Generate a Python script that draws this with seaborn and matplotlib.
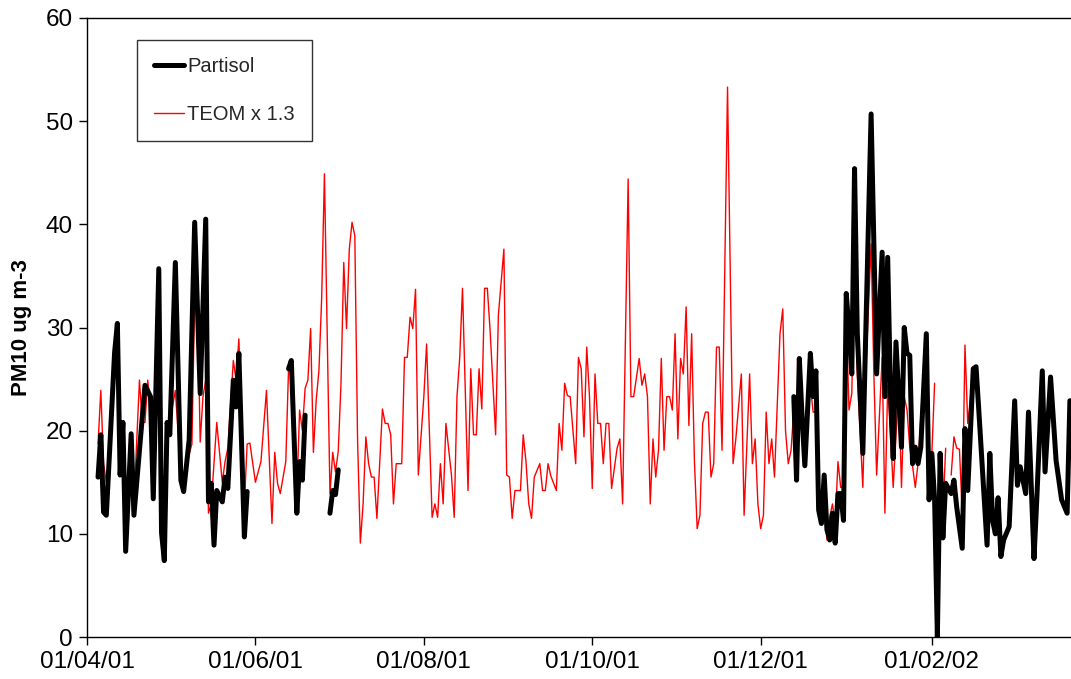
import numpy as np
import pandas as pd
import matplotlib
matplotlib.use("Agg")
import matplotlib.pyplot as plt
import matplotlib.dates as mdates
from matplotlib.lines import Line2D
import seaborn as sns

START = "2001-04-01"
nan = np.nan

# TEOM x 1.3 (red) : day offset since 01/04/01 and value
teom_days = [4,5,6,7,8,10,11,12,13,14,16,17,19,20,21,22,23,24,26,27,28,29,30,32,34,35,38,39,40,41,42,43,44,45,47,49,50,51,53,54,55,57,58,59,61,63,65,67,68,69,70,72,73,74,76,77,78,79,80,81,82,83,84,85,86,88,89,90,91,92,93,94,95,96,97,98,99,100,101,102,103,104,105,107,108,109,110,111,112,113,114,115,116,117,118,119,120,122,123,125,126,127,128,129,130,132,133,134,135,136,138,139,140,141,142,143,144,145,146,148,149,151,152,153,154,155,157,158,159,160,161,162,164,165,166,167,168,170,171,172,173,174,175,177,178,179,180,181,182,183,184,185,186,187,188,189,190,192,193,194,196,197,198,200,201,202,203,204,205,206,207,208,209,210,211,212,213,214,215,216,217,218,219,220,221,222,223,224,225,226,227,228,229,230,232,234,235,237,238,240,241,242,243,244,245,246,247,248,249,251,252,253,254,255,256,257,258,259,260,262,263,264,265,266,267,268,269,270,271,272,273,274,275,276,277,278,279,281,282,284,285,286,288,289,290,291,292,294,295,296,297,298,299,300,301,303,304,305,306,307,308,310,311,312,313,314,315,316,317,318,319,321,322,324,325]
teom_vals = [18.7,23.9,16.8,15.0,15.0,26.0,24.9,18.9,20.0,8.9,18.8,13.0,24.9,20.8,20.8,24.9,22.3,14.9,31.8,13.9,12.0,20.8,20.8,23.9,15.8,15.8,18.7,32.9,32.9,18.9,23.3,24.9,12.0,12.9,20.8,15.0,17.0,18.3,26.8,24.9,28.9,12.9,18.7,18.8,15.0,17.0,23.9,11.0,17.9,14.9,13.9,17.0,26.0,26.8,13.9,22.0,20.0,24.1,24.9,29.9,17.9,22.9,25.8,32.9,44.9,13.9,17.9,16.0,18.0,24.6,36.3,29.9,37.6,40.2,38.9,19.1,9.1,12.9,19.4,16.8,15.5,15.5,11.5,22.1,20.7,20.7,19.6,12.9,16.8,16.8,16.8,27.1,27.1,31.0,29.9,33.7,15.7,23.3,28.4,11.6,12.9,11.6,16.8,12.9,20.7,15.7,11.6,23.3,27.1,33.8,14.2,26.0,19.6,19.6,26.0,22.1,33.8,33.8,29.7,19.6,31.2,37.6,15.7,15.5,11.5,14.2,14.2,19.6,17.0,12.9,11.5,15.5,16.8,14.2,14.2,16.8,15.6,14.2,20.7,18.1,24.6,23.4,23.3,16.8,27.1,26.0,19.4,28.1,23.3,14.4,25.5,20.7,20.7,16.8,20.7,20.7,14.4,18.3,19.2,12.9,44.4,23.3,23.3,27.0,24.4,25.5,23.3,12.9,19.2,15.5,18.1,27.0,18.1,23.3,23.3,22.0,29.4,19.2,27.0,25.5,32.0,20.5,29.4,17.1,10.5,11.8,20.7,21.8,21.8,15.5,16.8,28.1,28.1,18.1,53.3,16.8,19.2,25.5,11.8,25.5,16.8,19.2,12.9,10.5,11.8,21.8,16.8,19.2,15.5,29.4,31.8,20.0,16.8,18.1,22.0,15.5,24.4,21.0,18.1,24.4,21.8,21.8,12.9,14.2,15.5,9.4,11.6,12.9,11.0,17.0,14.5,14.5,30.9,22.0,23.6,35.7,25.5,14.5,25.2,38.1,25.5,15.7,27.1,12.0,24.4,19.7,14.5,24.4,14.5,23.3,22.0,18.4,16.6,14.5,16.8,25.7,23.4,15.7,17.8,24.6,nan,12.0,18.3,nan,15.7,19.4,18.3,18.2,12.0,28.3,20.7,25.7,nan,18.3,12.0]

# Partisol (black)
part_days = [4,5,6,7,10,11,12,13,14,16,17,21,23,24,26,27,28,29,30,32,34,35,37,39,41,43,44,45,46,47,49,50,51,53,54,55,57,58,59,73,74,76,77,78,79,80,88,89,90,91,92,256,257,258,259,260,262,263,264,265,266,267,268,269,270,271,272,273,274,275,276,277,278,279,281,284,286,288,289,290,291,292,293,295,296,297,298,299,300,301,302,304,305,306,307,308,309,310,311,313,314,315,317,318,319,321,322,323,326,327,328,329,330,331,332,334,336,337,338,340,341,343,344,346,347,349,351,353,355,356]
part_vals = [15.5,19.6,12.1,11.8,27.6,30.4,15.7,20.8,8.3,19.7,11.8,24.4,23.3,13.4,35.7,10.1,7.4,20.8,19.6,36.3,15.2,14.1,19.1,40.2,23.6,40.5,13.1,14.9,8.9,14.2,13.1,15.5,14.4,24.9,22.3,27.5,9.7,14.1,nan,26.0,26.8,12.0,17.0,15.2,21.5,nan,12.0,14.2,13.8,16.2,nan,23.3,15.2,27.0,21.3,16.6,27.5,23.3,25.8,12.3,11.0,15.7,10.4,9.4,12.0,9.1,13.9,13.9,11.3,33.3,29.7,25.5,45.4,29.4,17.8,50.7,25.5,37.3,23.3,36.8,23.9,17.3,28.6,18.4,30.0,27.5,27.3,16.8,18.4,16.8,18.4,29.4,13.3,17.8,13.3,0.0,17.8,9.6,14.9,13.9,15.2,12.6,8.6,20.2,14.2,26.0,26.2,22.0,8.9,17.8,11.3,10.0,13.5,7.8,9.4,10.7,22.9,14.7,16.5,13.9,21.8,7.6,13.3,25.8,16.0,25.2,17.1,13.3,12.0,22.9]

tick_dates = ["2001-04-01", "2001-06-01", "2001-08-01", "2001-10-01", "2001-12-01", "2002-02-01"]


def frame(days, vals):
    df = pd.DataFrame({"day": days, "value": vals})
    df["date"] = pd.Timestamp(START) + pd.to_timedelta(df["day"], unit="D")
    df["seg"] = df["value"].isna().cumsum()
    return df.dropna(subset=["value"])


sns.set_theme(style="white")
plt.rcParams["font.family"] = ["Liberation Sans", "DejaVu Sans"]

fig = plt.figure(figsize=(10.71, 6.79), dpi=100)
ax = fig.add_axes([87 / 1071, 1 - 637 / 679, 1 - 87 / 1071, (637 - 18) / 679])

series = [
    ("Partisol", part_days, part_vals, "black", 3.6, 3),
    ("TEOM x 1.3", teom_days, teom_vals, "#ff0000", 1.0, 2),
]
for name, days, vals, color, lw, z in series[::-1]:
    df = frame(days, vals)
    for _, sub in df.groupby("seg"):
        sns.lineplot(data=sub, x="date", y="value", ax=ax, color=color,
                     linewidth=lw, zorder=z, estimator=None, sort=False,
                     legend=False, solid_joinstyle="round", solid_capstyle="round")

x0 = pd.Timestamp(START)
ax.set_xlim(x0, x0 + pd.Timedelta(days=356.4))
ax.set_ylim(0, 60)
ax.set_yticks(range(0, 61, 10))
ax.set_xticks(pd.to_datetime(tick_dates))
ax.xaxis.set_major_formatter(mdates.DateFormatter("%d/%m/%y"))
ax.tick_params(axis="both", direction="out", length=6, width=1, color="black",
               labelsize=17.5, labelcolor="black", bottom=True, left=True, pad=4)
ax.set_xlabel("")
ax.set_ylabel("PM10 ug m-3", fontsize=16, fontweight="bold", color="black", labelpad=10)
for s in ["left", "bottom", "top"]:
    ax.spines[s].set_visible(True)
    ax.spines[s].set_color("black")
    ax.spines[s].set_linewidth(1)
ax.spines["right"].set_visible(False)
ax.grid(False)

handles = [Line2D([0], [0], color="black", lw=3.6),
           Line2D([0], [0], color="#ff0000", lw=1.0)]
leg = ax.legend(handles, ["Partisol", "TEOM x 1.3"], loc="upper left",
                bbox_to_anchor=(137 / 1071, 1 - 40 / 679), bbox_transform=fig.transFigure,
                fontsize=14.5, frameon=True, fancybox=False, handlelength=1.5,
                borderpad=0.85, labelspacing=1.45, handletextpad=0.15, borderaxespad=0)
leg.get_frame().set_edgecolor("black")
leg.get_frame().set_linewidth(1)

fig.savefig("out.png", dpi=100)
